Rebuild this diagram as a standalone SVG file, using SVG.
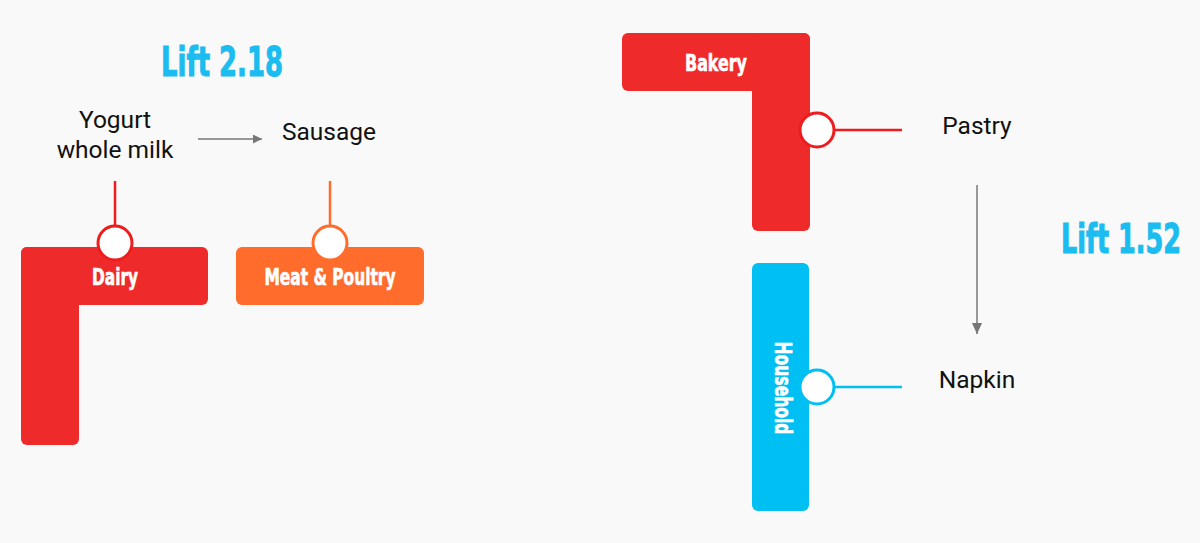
<svg xmlns="http://www.w3.org/2000/svg" width="1200" height="543" viewBox="0 0 1200 543">
<defs>
<style>
.bg{fill:#f9f9f9}
.red{fill:#ef2a2b}
.org{fill:#ff6c2c}
.blu{fill:#00bff2}
.lbl{font-family:"Liberation Sans Narrow","DejaVu Sans Condensed",sans-serif;font-weight:bold;font-size:23px;fill:#fff;stroke:#fff;stroke-width:0.6;text-anchor:middle}
.lift{font-family:"Liberation Sans Narrow","DejaVu Sans Condensed",sans-serif;font-weight:bold;font-size:41px;fill:#1bbcef;stroke:#1bbcef;stroke-width:1}
.item{font-family:Roboto,"Liberation Sans",sans-serif;font-size:24.5px;fill:#111;text-anchor:middle}
.pin{fill:#fff;stroke-width:3}
.lnk{stroke-width:2.5;fill:none}
.arr{stroke:#777;stroke-width:1.5;fill:none}
</style>
<marker id="ah" viewBox="0 0 10 10" refX="10" refY="5" markerWidth="9" markerHeight="9" markerUnits="userSpaceOnUse" orient="auto">
<path d="M0,0 L10,5 L0,10 z" fill="#777"/>
</marker>
<marker id="ahv" viewBox="0 0 12 11" refX="12" refY="5.5" markerWidth="11" markerHeight="12" markerUnits="userSpaceOnUse" orient="auto">
<path d="M0,0 L12,5.5 L0,11 z" fill="#777"/>
</marker>
</defs>
<rect class="bg" x="0" y="0" width="1200" height="543"/>

<text class="lift" x="161" y="76" textLength="122" lengthAdjust="spacingAndGlyphs">Lift 2.18</text>
<text class="lift" x="1061" y="253" textLength="120" lengthAdjust="spacingAndGlyphs">Lift 1.52</text>

<g id="connectors">
<line class="lnk" x1="115" y1="181" x2="115" y2="226" stroke="#ee1c1c"/>
<line class="lnk" x1="330" y1="181" x2="330" y2="226" stroke="#ff6c2c"/>
<line class="lnk" x1="834" y1="130" x2="902" y2="130" stroke="#ee1c1c"/>
<line class="lnk" x1="834" y1="387" x2="902" y2="387" stroke="#00bff2"/>
<line class="arr" x1="198" y1="139" x2="262" y2="139" marker-end="url(#ah)"/>
<line class="arr" x1="977" y1="185" x2="977" y2="334" marker-end="url(#ahv)"/>
</g>

<g id="item-yogurt">
<text class="item" x="115" y="128">Yogurt</text>
<text class="item" x="115" y="158">whole milk</text>
</g>
<g id="item-sausage"><text class="item" x="329" y="140">Sausage</text></g>
<g id="item-pastry"><text class="item" x="977" y="134">Pastry</text></g>
<g id="item-napkin"><text class="item" x="977" y="388">Napkin</text></g>

<g id="dairy">
<rect class="red" x="21" y="247" width="187" height="58" rx="6"/>
<rect class="red" x="21" y="247" width="58" height="198" rx="6"/>
<circle class="pin" cx="115" cy="243" r="17" stroke="#ee1c1c"/>
<text class="lbl" x="115" y="285" textLength="46" lengthAdjust="spacingAndGlyphs">Dairy</text>
</g>

<g id="meat">
<rect class="org" x="236" y="247" width="188" height="58" rx="6"/>
<circle class="pin" cx="330" cy="243" r="17" stroke="#ff6c2c"/>
<text class="lbl" x="330" y="285" textLength="131" lengthAdjust="spacingAndGlyphs">Meat &amp; Poultry</text>
</g>

<g id="bakery">
<rect class="red" x="622" y="33" width="188" height="58" rx="6"/>
<rect class="red" x="752" y="33" width="58" height="198" rx="6"/>
<circle class="pin" cx="817" cy="130" r="17" stroke="#ee1c1c"/>
<text class="lbl" x="716" y="71" textLength="62" lengthAdjust="spacingAndGlyphs">Bakery</text>
</g>

<g id="household">
<rect class="blu" x="752" y="263" width="57" height="248" rx="6"/>
<circle class="pin" cx="817" cy="387" r="17" stroke="#00bff2"/>
<text class="lbl" transform="translate(775,388) rotate(90)" x="0" y="0" textLength="93" lengthAdjust="spacingAndGlyphs">Household</text>
</g>
</svg>
